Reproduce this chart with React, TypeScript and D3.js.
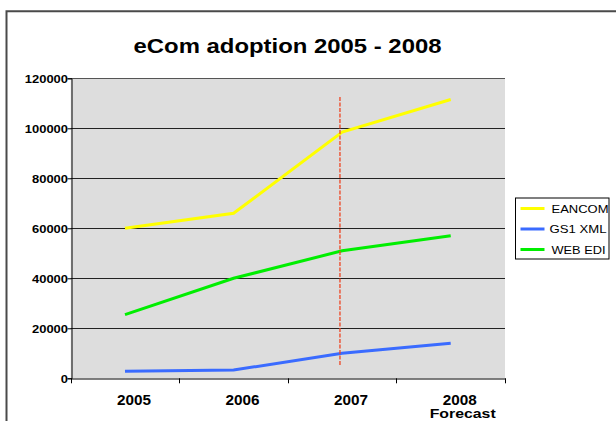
import { useEffect, useRef } from 'react'
import * as d3 from 'd3'

const years = ['2005', '2006', '2007', '2008']
const eancom = [60000, 66000, 98500, 111500]
const gs1xml = [2800, 3300, 10000, 14000]
const webedi = [25500, 40000, 51000, 57000]
const yTicks = [0, 20000, 40000, 60000, 80000, 100000, 120000]
const seriesNames = ['EANCOM', 'GS1 XML', 'WEB EDI']
const seriesColors = ['#ffff00', '#3a6bff', '#00ee00']
// vertical marker drawn just before 2007 (index 1.98 on category axis)
const markerPos = [1.98]
const markerRange = [112500, 4800]

const FONT = "'Liberation Sans', Arial, sans-serif"

export default () => {
  const rootRef = useRef<SVGSVGElement>(null)

  useEffect(() => {
    const W = 616,
      H = 421
    const plot = { left: 70.7, right: 505, top: 78.3, bottom: 378.3 }

    const svg = d3.select(rootRef.current).attr('width', W).attr('height', H)
    svg.selectAll('*').remove()

    svg.append('rect').attr('width', W).attr('height', H).attr('fill', '#fff')

    // outer chart border (right/bottom are off-picture)
    svg
      .append('path')
      .attr('d', `M6.5,${H + 5}V11.2H${W + 5}`)
      .attr('fill', 'none')
      .attr('stroke', '#4a4a4a')
      .attr('stroke-width', 2)

    svg
      .append('text')
      .attr('x', 287.5)
      .attr('y', 53)
      .attr('text-anchor', 'middle')
      .attr('font-family', FONT)
      .attr('font-weight', 'bold')
      .attr('font-size', 20.5)
      .attr('textLength', 308)
      .attr('lengthAdjust', 'spacingAndGlyphs')
      .text('eCom adoption 2005 - 2008')

    const x = d3.scaleBand<string>().domain(years).range([plot.left, plot.right]).padding(0)
    const xi = d3
      .scaleLinear()
      .domain([-0.5, years.length - 0.5])
      .range([plot.left, plot.right])
    const y = d3.scaleLinear().domain([0, 120000]).range([plot.bottom, plot.top])

    // plot area
    svg
      .append('rect')
      .attr('x', plot.left)
      .attr('y', plot.top)
      .attr('width', plot.right - plot.left)
      .attr('height', plot.bottom - plot.top)
      .attr('fill', '#dddddd')

    // gridlines
    svg
      .append('g')
      .selectAll('line')
      .data(yTicks.filter((t) => t > 0))
      .join('line')
      .attr('x1', plot.left)
      .attr('x2', plot.right)
      .attr('y1', (d) => Math.round(y(d)) + 0.5)
      .attr('y2', (d) => Math.round(y(d)) + 0.5)
      .attr('stroke', (d) => (d === 120000 ? '#555' : '#222'))
      .attr('stroke-width', 1)

    // y axis
    const yAxis = svg
      .append('g')
      .attr('transform', `translate(${Math.round(plot.left) + 0.5},0)`)
      .call(
        d3
          .axisLeft(y)
          .tickValues(yTicks)
          .tickSize(4)
          .tickFormat((d) => String(d))
      )
    yAxis.select('.domain').attr('stroke', '#000')
    yAxis.selectAll('.tick line').attr('stroke', '#000')
    yAxis
      .selectAll<SVGTextElement, number>('.tick text')
      .attr('x', -3.5)
      .attr('dy', '0.36em')
      .attr('fill', '#000')
      .attr('font-family', FONT)
      .attr('font-weight', 'bold')
      .attr('font-size', 11)
      .attr('textLength', (d) => String(d).length * 7.2)
      .attr('lengthAdjust', 'spacingAndGlyphs')

    // x axis
    const xAxis = svg
      .append('g')
      .attr('transform', `translate(0,${Math.round(plot.bottom) + 0.5})`)
      .call(d3.axisBottom(x).tickSize(0).tickFormat(() => ''))
    xAxis.select('.domain').attr('stroke', '#000')
    svg
      .append('g')
      .selectAll('line')
      .data(d3.range(years.length + 1))
      .join('line')
      .attr('x1', (i) => Math.round(xi(i - 0.5)) + 0.5)
      .attr('x2', (i) => Math.round(xi(i - 0.5)) + 0.5)
      .attr('y1', plot.bottom)
      .attr('y2', plot.bottom + 5)
      .attr('stroke', '#000')

    const labels = svg
      .append('g')
      .attr('font-family', FONT)
      .attr('font-weight', 'bold')
      .attr('text-anchor', 'middle')
    labels
      .selectAll('text.year')
      .data(years)
      .join('text')
      .attr('class', 'year')
      .attr('x', (d) => (x(d) ?? 0) + x.bandwidth() / 2 + 9)
      .attr('y', 404.5)
      .attr('font-size', 14)
      .attr('textLength', 34)
      .attr('lengthAdjust', 'spacingAndGlyphs')
      .text((d) => d)
    labels
      .append('text')
      .attr('x', (x('2008') ?? 0) + x.bandwidth() / 2 + 12)
      .attr('y', 418)
      .attr('font-size', 12.5)
      .attr('textLength', 66)
      .attr('lengthAdjust', 'spacingAndGlyphs')
      .text('Forecast')

    // series
    const series = [webedi, gs1xml, eancom]
    const colors = [seriesColors[2], seriesColors[1], seriesColors[0]]
    const line = d3
      .line<number>()
      .x((_, i) => (x(years[i]) ?? 0) + x.bandwidth() / 2)
      .y((d) => y(d))
    series.forEach((s, k) => {
      svg
        .append('path')
        .datum(s)
        .attr('fill', 'none')
        .attr('stroke', colors[k])
        .attr('stroke-width', 3)
        .attr('d', line)
    })

    // red dashed marker
    svg
      .append('g')
      .selectAll('line')
      .data(markerPos)
      .join('line')
      .attr('x1', (d) => xi(d))
      .attr('x2', (d) => xi(d))
      .attr('y1', y(markerRange[0]))
      .attr('y2', y(markerRange[1]))
      .attr('stroke', '#ee4422')
      .attr('stroke-width', 1.3)
      .attr('stroke-dasharray', '4,1.5')

    // legend
    const legendWidths = [57, 57, 54]
    const lg = svg.append('g').attr('transform', 'translate(515.5,198)')
    lg.append('rect')
      .attr('width', 93.5)
      .attr('height', 61)
      .attr('fill', '#fff')
      .attr('stroke', '#000')
      .attr('stroke-width', 1)
    const items = lg
      .selectAll('g.item')
      .data(seriesNames)
      .join('g')
      .attr('class', 'item')
      .attr('transform', (_, i) => `translate(0,${10.5 + i * 20.5})`)
    items
      .append('line')
      .attr('x1', 5)
      .attr('x2', 29)
      .attr('stroke', (_, i) => seriesColors[i])
      .attr('stroke-width', 3)
    items
      .append('text')
      .attr('x', (_, i) => (i === 1 ? 34 : 36))
      .attr('dy', '0.36em')
      .attr('font-family', FONT)
      .attr('font-size', 11.5)
      .attr('textLength', (_, i) => legendWidths[i])
      .attr('lengthAdjust', 'spacingAndGlyphs')
      .text((d) => d)
  }, [])

  return <svg ref={rootRef} style={{ position: 'absolute', left: 0, top: 0, display: 'block' }}></svg>
}
